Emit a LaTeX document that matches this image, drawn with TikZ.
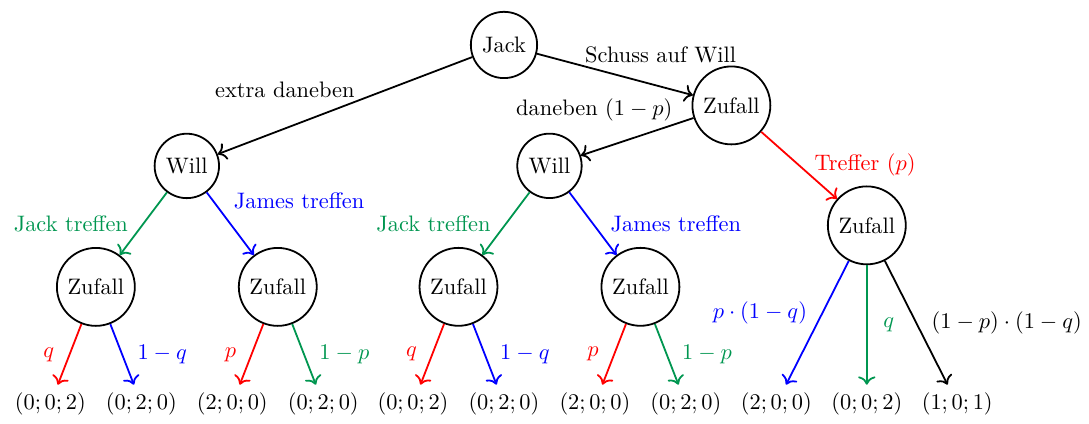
\documentclass[tikz,border=0pt]{standalone}
\usepackage{amsmath}
\usepackage{tikz}
\usetikzlibrary{arrows,arrows.meta,positioning}
\definecolor{darkgreen}{RGB}{0,150,80}
\tikzstyle{player} = [circle, draw=black, thick, text=black, text centered, on grid]
\tikzstyle{chance} = [circle, draw=black, thick, text=black, text centered, on grid]
\tikzstyle{outcome} = [draw=none, fill=none, text=black, text centered, on grid]
\tikzstyle{branch} = [-{Computer Modern Rightarrow[scale=1.1]}, thick]
\tikzstyle{lab} = [inner sep=1pt]

\begin{document}
\begin{tikzpicture}[auto]

\useasboundingbox (-7.912,0.706) rectangle (9.184,-5.950);

% decisions and chance =============================

\node[player] (jack) at (0,0) {Jack};
\node[chance, below right=0.949cm and 3.570cm of jack] (z1) {Zufall};
\node[player, below left=1.899cm and 4.979cm of jack] (wl) {Will};
\node[player, below left=0.949cm and 2.856cm of z1] (wm) {Will};
\node[chance, below right=1.883cm and 2.126cm of z1] (zr) {Zufall};

% chance after Will
\node[chance, below left=1.899cm and 1.428cm of wl] (zll) {Zufall};
\node[chance, below right=1.899cm and 1.428cm of wl] (zlr) {Zufall};
\node[chance, below left=1.899cm and 1.428cm of wm] (zml) {Zufall};
\node[chance, below right=1.899cm and 1.428cm of wm] (zmr) {Zufall};

% outcomes
\node[outcome, below left=1.836cm and 0.714cm of zll] (o1) {$(0;0;2)$};
\node[outcome, below right=1.836cm and 0.714cm of zll] (o2) {$(0;2;0)$};
\node[outcome, below left=1.836cm and 0.714cm of zlr] (o3) {$(2;0;0)$};
\node[outcome, below right=1.836cm and 0.714cm of zlr] (o4) {$(0;2;0)$};
\node[outcome, below left=1.836cm and 0.714cm of zml] (o5) {$(0;0;2)$};
\node[outcome, below right=1.836cm and 0.714cm of zml] (o6) {$(0;2;0)$};
\node[outcome, below left=1.836cm and 0.714cm of zmr] (o7) {$(2;0;0)$};
\node[outcome, below right=1.836cm and 0.714cm of zmr] (o8) {$(0;2;0)$};
\node[outcome, below left=2.801cm and 1.420cm of zr] (o9) {$(2;0;0)$};
\node[outcome, below=2.801cm of zr] (o10) {$(0;0;2)$};
\node[outcome, below right=2.801cm and 1.420cm of zr] (o11) {$(1;0;1)$};

% edges from Jack
\draw[branch] (jack) -- node[lab, pos=0.29, above right] {Schuss auf Will} (z1);
\draw[branch] (jack) -- node[lab, pos=0.45, above left] {extra daneben} (wl);
\draw[branch] (z1) -- node[lab, pos=0.16, above left] {daneben $(1-p)$} (wm);
\draw[branch, red] (z1) -- node[lab, midway, right=5.5pt] {Treffer $(p)$} (zr);

% edges from Will
\draw[branch, darkgreen] (wl) -- node[lab, midway, left=5.5pt] {Jack treffen} (zll);
\draw[branch, blue] (wl) -- node[lab, pos=0.13, right=8pt] {James treffen} (zlr);
\draw[branch, darkgreen] (wm) -- node[lab, midway, left=5.5pt] {Jack treffen} (zml);
\draw[branch, blue] (wm) -- node[lab, midway, right=6.5pt] {James treffen} (zmr);

% edges to outcomes
\draw[branch, red] (zll) -- node[lab, midway, left=5.5pt] {$q$} (o1);
\draw[branch, blue] (zll) -- node[lab, midway, right=5.5pt] {$1-q$} (o2);
\draw[branch, red] (zlr) -- node[lab, midway, left=5.5pt] {$p$} (o3);
\draw[branch, darkgreen] (zlr) -- node[lab, midway, right=5.5pt] {$1-p$} (o4);
\draw[branch, red] (zml) -- node[lab, midway, left=5.5pt] {$q$} (o5);
\draw[branch, blue] (zml) -- node[lab, midway, right=5.5pt] {$1-q$} (o6);
\draw[branch, red] (zmr) -- node[lab, midway, left=5.5pt] {$p$} (o7);
\draw[branch, darkgreen] (zmr) -- node[lab, midway, right=5.5pt] {$1-p$} (o8);
\draw[branch, blue] (zr) -- node[lab, pos=0.42, left=5.5pt] {$p\cdot(1-q)$} (o9);
\draw[branch, darkgreen] (zr) -- node[lab, midway, right=6pt] {$q$} (o10);
\draw[branch] (zr) -- node[lab, midway, right=5.5pt] {$(1-p)\cdot(1-q)$} (o11);

\end{tikzpicture}
\end{document}
